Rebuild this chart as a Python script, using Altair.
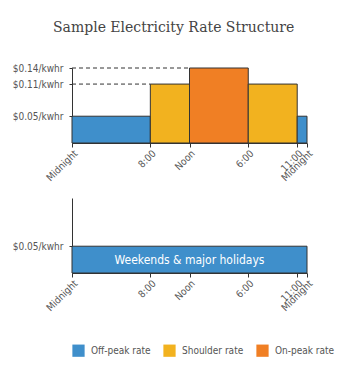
import altair as alt
import pandas as pd

# Weekday schedule
starts = [0, 8, 12, 18, 23]
ends = [8, 12, 18, 23, 24]
rates = [0.05, 0.11, 0.14, 0.11, 0.05]
periods = ["Off-peak rate", "Shoulder rate", "On-peak rate", "Shoulder rate", "Off-peak rate"]

# Weekend schedule
weekend_starts = [0]
weekend_ends = [24]
weekend_rates = [0.05]
weekend_periods = ["Off-peak rate"]
weekend_label = ["Weekends & major holidays"]

legend_order = ["Off-peak rate", "Shoulder rate", "On-peak rate"]
colors = ["#3f8fcb", "#f2b21f", "#f07f24"]

x_ticks = [0, 8, 12, 18, 23, 24]
x_labels = ["Midnight", "8:00", "Noon", "6:00", "11:00", "Midnight"]
y_ticks_top = [0.05, 0.11, 0.14]
y_ticks_bottom = [0.05]

guide_rates = [0.14, 0.11]
guide_ends = [12, 8]

FONT = "Liberation Sans Narrow, DejaVu Sans Condensed, Roboto Condensed, sans-serif"
TXT = "#555555"
DARK = "#333333"

week_df = pd.DataFrame({"start": starts, "end": ends, "rate": rates, "period": periods})
wknd_df = pd.DataFrame({"start": weekend_starts, "end": weekend_ends, "rate": weekend_rates,
                        "period": weekend_periods, "label": weekend_label})
wknd_df["mid"] = (wknd_df["start"] + wknd_df["end"]) / 2
wknd_df["half"] = wknd_df["rate"] / 2
guide_df = pd.DataFrame({"rate": guide_rates, "end": guide_ends, "zero": [0] * len(guide_rates)})

label_expr = ""
for v, l in zip(x_ticks, x_labels):
    label_expr += f"datum.value == {v} ? '{l}' : "
label_expr += "''"

x_scale = alt.Scale(domain=[0, 24], nice=False, zero=False)
y_scale = alt.Scale(domain=[0, 0.14], nice=False)
color_scale = alt.Scale(domain=legend_order, range=colors)

x_axis = alt.Axis(values=x_ticks, labelExpr=label_expr, labelAngle=315, grid=False, title=None,
                  tickSize=4, labelOverlap=False, labelBound=False, labelFlush=False,
                  domainColor=DARK, tickColor=DARK, labelFont=FONT, labelFontSize=10,
                  labelColor=TXT, labelPadding=1)


def y_axis(vals):
    return alt.Axis(values=vals, labelExpr="'$' + format(datum.value, '.2f') + '/kwhr'",
                    grid=False, title=None, tickSize=3, domainColor=DARK, tickColor=DARK,
                    labelFont=FONT, labelFontSize=10, labelColor=TXT, labelPadding=6,
                    labelOverlap=False)


legend = alt.Legend(title=None, orient="bottom", direction="horizontal", symbolType="square",
                    symbolSize=150, symbolStrokeWidth=0, labelFont=FONT, labelFontSize=10,
                    labelColor=TXT, columnPadding=12, offset=31, labelOffset=6)

guides = alt.Chart(guide_df).mark_rule(color=DARK, strokeDash=[4, 3], strokeWidth=1).encode(
    x=alt.X("zero:Q", scale=x_scale, axis=x_axis),
    x2="end:Q",
    y=alt.Y("rate:Q", scale=y_scale, axis=y_axis(y_ticks_top)),
)

bars = alt.Chart(week_df).mark_rect(stroke=DARK, strokeWidth=1).encode(
    x=alt.X("start:Q", scale=x_scale, axis=x_axis),
    x2="end:Q",
    y=alt.Y("rate:Q", scale=y_scale, axis=y_axis(y_ticks_top)),
    y2=alt.datum(0),
    color=alt.Color("period:N", scale=color_scale, legend=legend, sort=legend_order),
)

top = alt.layer(guides, bars).properties(width=235, height=75)

wknd_bar = alt.Chart(wknd_df).mark_rect(stroke=DARK, strokeWidth=1).encode(
    x=alt.X("start:Q", scale=x_scale, axis=x_axis),
    x2="end:Q",
    y=alt.Y("rate:Q", scale=y_scale, axis=y_axis(y_ticks_bottom)),
    y2=alt.datum(0),
    color=alt.Color("period:N", scale=color_scale, legend=legend, sort=legend_order),
)
wknd_text = alt.Chart(wknd_df).mark_text(color="white", font=FONT, fontSize=12).encode(
    x=alt.X("mid:Q", scale=x_scale, axis=x_axis),
    y=alt.Y("half:Q", scale=y_scale, axis=y_axis(y_ticks_bottom)),
    text="label:N",
)
bottom = alt.layer(wknd_bar, wknd_text).properties(width=235, height=75)

chart = alt.vconcat(top, bottom, spacing=15).properties(
    title=alt.TitleParams("Sample Electricity Rate Structure", font="DejaVu Serif", fontSize=14,
                          fontWeight="normal", color="#444444", anchor="middle", offset=28),
    padding={"left": 12, "top": 21, "right": 5, "bottom": 5},
).configure_view(stroke=None).configure_concat(spacing=15)

chart.save("out.html", embed_options={"renderer": "svg", "actions": False})
